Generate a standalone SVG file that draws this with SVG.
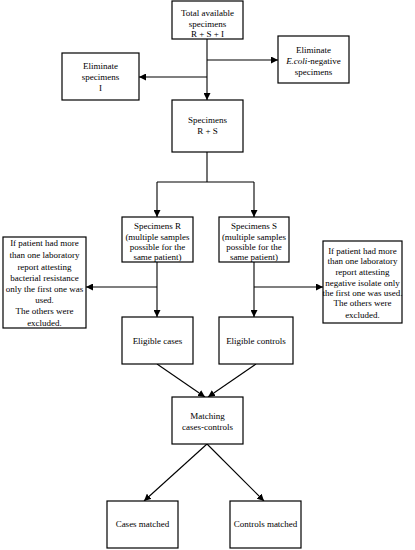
<svg xmlns="http://www.w3.org/2000/svg" width="415" height="550" viewBox="0 0 415 550">
<style>
.box{fill:#fff;stroke:#000;stroke-width:1.2}
.t{font-family:"Liberation Serif","Times New Roman",serif;font-size:9px;fill:#000;text-anchor:middle}
.c{fill:none;stroke:#000;stroke-width:1.1}
</style>
<defs>
<marker id="ah" markerUnits="userSpaceOnUse" markerWidth="8" markerHeight="7" refX="7" refY="3.5" orient="auto">
<path d="M0,0 L7,3.5 L0,7 Z" fill="#000"/>
</marker>
</defs>
<rect width="415" height="550" fill="#fff"/>
<g id="connectors">
<path class="c" d="M207,39 V100" marker-end="url(#ah)"/>
<path class="c" d="M207,60 H278" marker-end="url(#ah)"/>
<path class="c" d="M207,77 H139" marker-end="url(#ah)"/>
<path class="c" d="M207,152 V182 M157,182 H254"/>
<path class="c" d="M157,182 V217" marker-end="url(#ah)"/>
<path class="c" d="M254,182 V217" marker-end="url(#ah)"/>
<path class="c" d="M157,262 V317" marker-end="url(#ah)"/>
<path class="c" d="M157,287 H86" marker-end="url(#ah)"/>
<path class="c" d="M254,262 V317" marker-end="url(#ah)"/>
<path class="c" d="M254,287 H323" marker-end="url(#ah)"/>
<path class="c" d="M157,364 L205,397" marker-end="url(#ah)"/>
<path class="c" d="M256,364 L208,397" marker-end="url(#ah)"/>
<path class="c" d="M207,444 L144,501" marker-end="url(#ah)"/>
<path class="c" d="M207,444 L264,501" marker-end="url(#ah)"/>
</g>
<g id="total">
<rect class="box" x="172" y="1" width="71" height="38"/>
<text class="t" x="207.5" y="16">Total available</text>
<text class="t" x="207.5" y="27">specimens</text>
<text class="t" x="207.5" y="37">R + S + I</text>
</g>
<g id="elim-ecoli">
<rect class="box" x="278" y="36" width="71" height="47"/>
<text class="t" x="313.5" y="53">Eliminate</text>
<text class="t" x="313.5" y="64"><tspan font-style="italic">E.coli</tspan>-negative</text>
<text class="t" x="313.5" y="75">specimens</text>
</g>
<g id="elim-i">
<rect class="box" x="62" y="53" width="77" height="47"/>
<text class="t" x="100.5" y="69">Eliminate</text>
<text class="t" x="100.5" y="80">specimens</text>
<text class="t" x="100.5" y="91">I</text>
</g>
<g id="rs">
<rect class="box" x="172" y="100" width="71" height="52"/>
<text class="t" x="207.5" y="123">Specimens</text>
<text class="t" x="207.5" y="134">R + S</text>
</g>
<g id="spec-r">
<rect class="box" x="122" y="217" width="71" height="45"/>
<text class="t" x="157.5" y="229">Specimens R</text>
<text class="t" x="157.5" y="240">(multiple samples</text>
<text class="t" x="157.5" y="250">possible for the</text>
<text class="t" x="157.5" y="260">same patient)</text>
</g>
<g id="spec-s">
<rect class="box" x="219" y="217" width="70" height="45"/>
<text class="t" x="254" y="229">Specimens S</text>
<text class="t" x="254" y="240">(multiple samples</text>
<text class="t" x="254" y="250">possible for the</text>
<text class="t" x="254" y="260">same patient)</text>
</g>
<g id="note-r">
<rect class="box" x="3" y="237" width="83" height="91"/>
<text class="t" x="44.5" y="246">If patient had more</text>
<text class="t" x="44.5" y="258">than one laboratory</text>
<text class="t" x="44.5" y="270">report attesting</text>
<text class="t" x="44.5" y="281">bacterial resistance</text>
<text class="t" x="44.5" y="292">only the first one was</text>
<text class="t" x="44.5" y="303">used.</text>
<text class="t" x="44.5" y="314">The others were</text>
<text class="t" x="44.5" y="326">excluded.</text>
</g>
<g id="note-s">
<rect class="box" x="323" y="241" width="79" height="82"/>
<text class="t" x="362.5" y="254">If patient had more</text>
<text class="t" x="362.5" y="264">than one laboratory</text>
<text class="t" x="362.5" y="275">report attesting</text>
<text class="t" x="362.5" y="286">negative isolate only</text>
<text class="t" x="362.5" y="296">the first one was used.</text>
<text class="t" x="362.5" y="306">The others were</text>
<text class="t" x="362.5" y="318">excluded.</text>
</g>
<g id="elig-cases">
<rect class="box" x="122" y="317" width="71" height="47"/>
<text class="t" x="157.5" y="344">Eligible cases</text>
</g>
<g id="elig-controls">
<rect class="box" x="219" y="317" width="74" height="47"/>
<text class="t" x="256" y="344">Eligible controls</text>
</g>
<g id="matching">
<rect class="box" x="172" y="397" width="71" height="47"/>
<text class="t" x="207.5" y="419">Matching</text>
<text class="t" x="207.5" y="430">cases-controls</text>
</g>
<g id="cases-matched">
<rect class="box" x="107" y="501" width="71" height="47"/>
<text class="t" x="142.5" y="527">Cases matched</text>
</g>
<g id="controls-matched">
<rect class="box" x="230" y="501" width="71" height="47"/>
<text class="t" x="265.5" y="527">Controls matched</text>
</g>
</svg>
